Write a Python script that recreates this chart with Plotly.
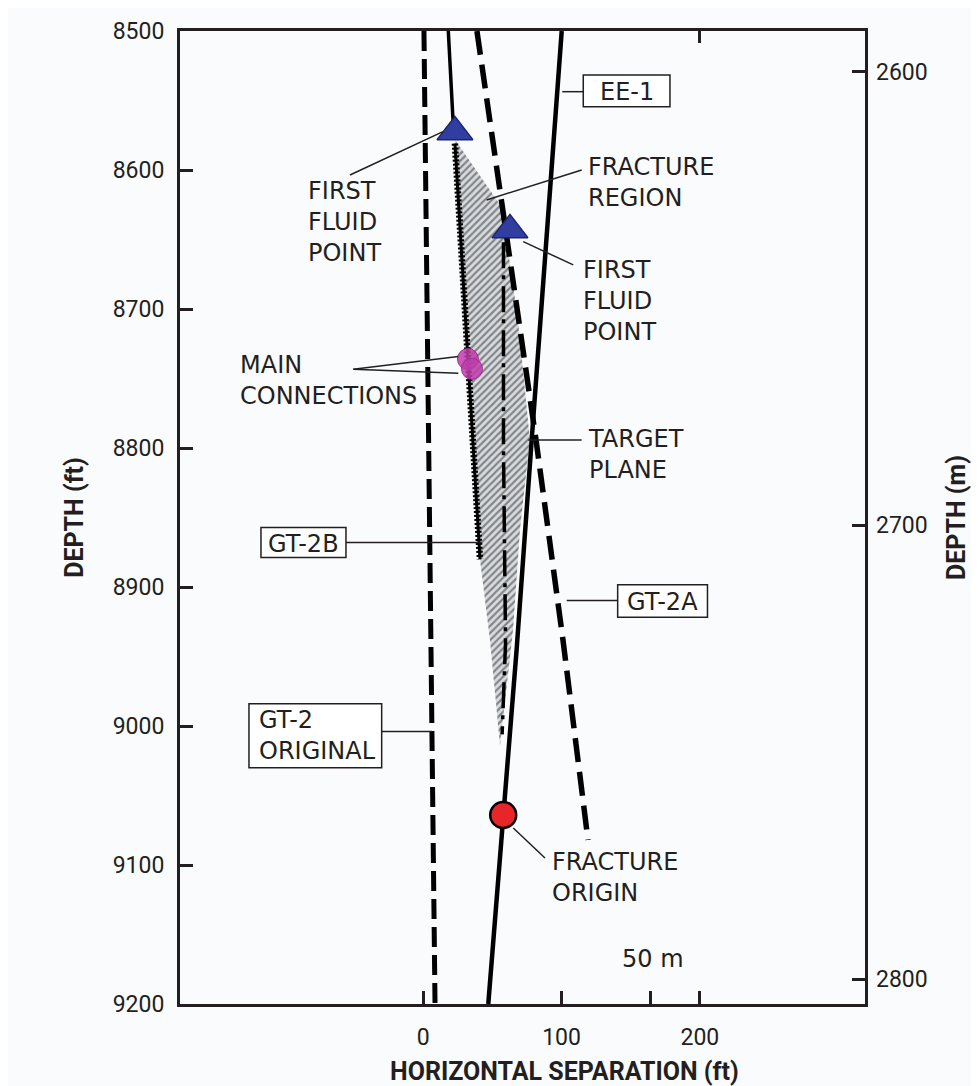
import plotly.graph_objects as go

# ---------------- data (feet) ----------------
gt2_orig_x = [0.5, 3.5, 5.6, 8.5]
gt2_orig_d = [8500, 8740, 8945, 9200]

ee1_x = [100.1, 83.2, 78.4, 67.5, 57.8, 47.0]
ee1_d = [8500, 8722, 8794, 8945, 9064, 9200]

gt2a_x = [38.8, 56.9, 81.5, 101.0, 119.1]
gt2a_d = [8500, 8627, 8794, 8938, 9082]

gt2b_top_x = [18.1, 21.5, 22.9]
gt2b_top_d = [8500, 8564, 8573]
gt2b_bead_x = [22.9, 32.3, 41.0]
gt2b_bead_d = [8581, 8737, 8880]

inner_x = [58.0, 58.0, 59.5, 57.0]
inner_d = [8652, 8800, 8940, 9006]

region_x = [22.9, 56.9, 68.5, 77.1, 69.9, 64.9, 55.5, 48.2, 41.0, 32.3, 22.9]
region_d = [8578, 8627, 8708, 8794, 8859, 8931, 9014, 8938, 8880, 8737, 8578]

ffp_x = [22.9, 62.7]
ffp_d = [8572.6, 8643.1]

mc_x = [32.3, 35.2]
mc_d = [8736, 8743]

fo_x = [57.8]
fo_d = [9064]

x_ticks = [0, 100, 164, 200]
x_ticklabels = ["0", "100", "", "200"]
depth_ft_ticks = [8500, 8600, 8700, 8800, 8900, 9000, 9100, 9200]
depth_m_ticks = [2600, 2700, 2800]

X_RANGE = [-175.9, 319.4]
FT_RANGE = [9200, 8500]
M_RANGE = [2805.51, 2591.03]

INK = "#231f20"
TICKFONT = "Roboto"
LABELFONT = "DejaVu Sans"

# plot area in page pixels (page body has an 8px margin)
PX_L, PX_R, PX_T, PX_B = 180, 865, 31, 1004

# helpers: convert picture pixel positions (for labels / boxes) to data coords
def fx(px):
    return (px - 423.3) / 1.383

def fy(py):
    return 8500 + (py - 31) / 1.3904

fig = go.Figure()

# fracture region (hatched)
fig.add_trace(go.Scatter(
    x=region_x, y=region_d, mode="lines", fill="toself",
    line=dict(width=0, color="rgba(0,0,0,0)"),
    fillcolor="#cfd3d7",
    fillpattern=dict(shape="/", fgcolor="#2e2e2e", bgcolor="#d8dce0", size=5, solidity=0.45),
    hoverinfo="skip", showlegend=False))

# GT-2 original
fig.add_trace(go.Scatter(x=gt2_orig_x, y=gt2_orig_d, mode="lines",
                         line=dict(color="black", width=5, dash="20px,8px"),
                         showlegend=False))
# GT-2A
fig.add_trace(go.Scatter(x=gt2a_x, y=gt2a_d, mode="lines",
                         line=dict(color="black", width=5.5, dash="24px,10px"),
                         showlegend=False))
# EE-1
fig.add_trace(go.Scatter(x=ee1_x, y=ee1_d, mode="lines",
                         line=dict(color="black", width=4.5), showlegend=False))
# GT-2B
fig.add_trace(go.Scatter(x=gt2b_top_x, y=gt2b_top_d, mode="lines",
                         line=dict(color="black", width=3.5), showlegend=False))
fig.add_trace(go.Scatter(x=gt2b_bead_x, y=gt2b_bead_d, mode="lines",
                         line=dict(color="black", width=3), showlegend=False))
fig.add_trace(go.Scatter(x=gt2b_bead_x, y=gt2b_bead_d, mode="lines",
                         line=dict(color="black", width=6.5, dash="2px,2px"),
                         showlegend=False))
# inner sidetrack
fig.add_trace(go.Scatter(x=inner_x, y=inner_d, mode="lines",
                         line=dict(color="black", width=3.5, dash="26px,7px,4px,7px"),
                         showlegend=False))

# markers
fig.add_trace(go.Scatter(x=ffp_x, y=ffp_d, mode="markers",
                         marker=dict(symbol="triangle-up", size=31, color="#2f3ea0",
                                     line=dict(color="#1b2468", width=1.5)),
                         showlegend=False))
fig.add_trace(go.Scatter(x=mc_x, y=mc_d, mode="markers",
                         marker=dict(symbol="circle", size=21, color="rgba(190,60,170,0.85)",
                                     line=dict(color="#a23094", width=1)),
                         showlegend=False))
fig.add_trace(go.Scatter(x=fo_x, y=fo_d, mode="markers",
                         marker=dict(symbol="circle", size=26, color="#e8262a",
                                     line=dict(color="black", width=2.5)),
                         showlegend=False))

# invisible traces to activate secondary axes
fig.add_trace(go.Scatter(x=[X_RANGE[0]], y=[M_RANGE[0]], yaxis="y2", mode="markers",
                         marker=dict(opacity=0), hoverinfo="skip", showlegend=False))
fig.add_trace(go.Scatter(x=[X_RANGE[0]], y=[FT_RANGE[0]], xaxis="x2", mode="markers",
                         marker=dict(opacity=0), hoverinfo="skip", showlegend=False))

shapes = []
def leader(p0, p1, w=1.5):
    shapes.append(dict(type="line", xref="x", yref="y",
                       x0=fx(p0[0]), y0=fy(p0[1]), x1=fx(p1[0]), y1=fy(p1[1]),
                       line=dict(color=INK, width=w)))

def box(x0, y0, x1, y1):
    shapes.append(dict(type="rect", xref="x", yref="y",
                       x0=fx(x0), y0=fy(y0), x1=fx(x1), y1=fy(y1),
                       line=dict(color=INK, width=1.5), fillcolor="white", layer="above"))

leader((562.3, 91.7), (583.3, 91.7))
leader((346, 542.7), (481.7, 542.7))
leader((566.7, 600.7), (617.7, 600.7))
leader((381.7, 731.7), (432, 731.7))
leader((350, 175), (443, 131.7))
leader((581.7, 170), (486.7, 200))
leader((573.3, 265), (523.3, 241.7))
leader((353.3, 369.3), (458.3, 356.7))
leader((353.3, 369.3), (458.3, 373.3))
leader((581.7, 440), (528.3, 440))
leader((545, 858.3), (513.3, 828.3))

box(583.3, 75, 670, 106.7)
box(261, 527.7, 346, 557.7)
box(617.7, 585, 707.5, 617.3)
box(249, 704, 381.7, 768)

annotations = []
def label(text, px, py, anchor="left"):
    annotations.append(dict(text=text, x=fx(px), y=fy(py), xref="x", yref="y",
                            xanchor=anchor, yanchor="middle", align="left",
                            showarrow=False, font=dict(family=LABELFONT, size=24, color=INK)))

label("FIRST<br>FLUID<br>POINT", 306, 222)
label("FRACTURE<br>REGION", 586, 183)
label("FIRST<br>FLUID<br>POINT", 581, 301)
label("MAIN<br>CONNECTIONS", 238, 381)
label("TARGET<br>PLANE", 586, 455)
label("FRACTURE<br>ORIGIN", 550, 878)
label("50 m", 653.3, 959, anchor="center")
label("EE-1", 626.7, 92, anchor="center")
label("GT-2B", 303.5, 544, anchor="center")
label("GT-2A", 662.6, 602, anchor="center")
label("GT-2<br>ORIGINAL", 257, 736)

title_font = dict(family=TICKFONT, size=25, color=INK)
# bottom axis title (offset to the right of the plot centre in the original)
annotations.append(dict(text="<b>HORIZONTAL SEPARATION (ft)</b>",
                        xref="paper", yref="paper",
                        x=(564 - PX_L) / (PX_R - PX_L), y=(PX_B - 1071) / (PX_B - PX_T),
                        xanchor="center", yanchor="middle", showarrow=False,
                        font=title_font))

axis_common = dict(showgrid=False, zeroline=False, linecolor=INK, linewidth=3,
                   ticks="inside", tickcolor=INK, tickwidth=3, ticklen=13,
                   automargin=False,
                   tickfont=dict(family=TICKFONT, size=23, color=INK))

fig.update_layout(
    width=971, height=1078,
    margin=dict(l=172, r=114, t=23, b=82),
    paper_bgcolor="#fafbfd", plot_bgcolor="#fafbfd",
    showlegend=False,
    shapes=shapes, annotations=annotations,
    xaxis=dict(range=X_RANGE, tickvals=x_ticks, ticktext=x_ticklabels,
               showline=True, mirror=True, ticklabelstandoff=10,
               **axis_common),
    xaxis2=dict(range=X_RANGE, overlaying="x", side="top", tickvals=[200],
                showticklabels=False, showline=False, showgrid=False, zeroline=False,
                automargin=False,
                ticks="inside", tickcolor=INK, tickwidth=3, ticklen=12),
    yaxis=dict(range=FT_RANGE, tickvals=depth_ft_ticks, showline=True, mirror=True,
               ticklabelstandoff=8,
               title=dict(text="<b>DEPTH (ft)</b>", font=title_font, standoff=22),
               **axis_common),
    yaxis2=dict(range=M_RANGE, overlaying="y", side="right", tickvals=depth_m_ticks,
                showline=False, ticklabelstandoff=10,
                title=dict(text="<b>DEPTH (m)</b>", font=title_font, standoff=20),
                **{k: v for k, v in axis_common.items() if k not in ("linecolor", "linewidth")}),
)

fig.write_html("out.html")
